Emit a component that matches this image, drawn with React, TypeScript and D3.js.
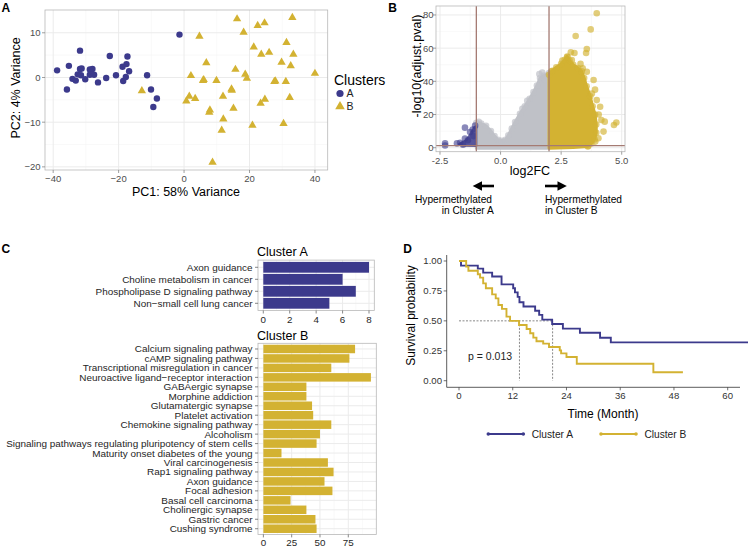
import React from 'react';
import * as d3 from 'd3';

// ---------------- DATA ----------------
// Panel A: PCA
const pcaClusterA: [number, number][] = [
  [-38.8, 1.6], [-35.2, 2.6], [-35.8, -2.7], [-31.8, 6.0], [-34.1, -0.3], [-33.1, -0.7],
  [-32.5, 0.7], [-31.8, 1.9], [-31.3, 2.0], [-31.5, 0.5], [-30.2, -0.4], [-28.8, 1.8],
  [-28.0, 1.9], [-28.8, 0.6], [-27.5, 0.6], [-26.3, -1.1], [-23.8, -0.1], [-22.7, 4.8],
  [-20.8, 0.5], [-18.8, 2.4], [-18.6, -0.8], [-17.6, 3.0], [-17.8, 0.1], [-17.3, 4.7],
  [-16.8, 1.4], [-11.3, 0.5], [-10.1, -2.7], [-8.3, -4.7], [-9.4, -6.6], [-1.4, 9.6],
];
const pcaClusterB: [number, number][] = [
  [-12.9, -3.0], [4.7, 9.2], [16.2, 13.1], [18.2, 10.1], [22.5, 11.6], [24.6, 12.2],
  [33.1, 13.4], [21.3, 6.8], [23.6, 5.2], [26.0, 5.6], [31.3, 7.8], [29.8, 3.4],
  [32.6, 2.6], [33.4, 5.2], [40.0, 0.9], [2.1, 0.4], [6.8, 3.3], [5.8, -0.7], [6.0, -0.5],
  [9.9, -0.7], [15.7, 1.8], [18.7, 0.7], [19.2, -0.2], [27.6, -0.9], [27.9, -0.8],
  [31.1, -0.9], [14.5, -2.6], [14.6, -2.9], [11.9, -4.2], [1.6, -4.2], [3.4, -4.7],
  [0.7, -5.3], [24.7, -4.9], [32.3, -4.5], [23.4, -5.8], [15.1, -6.9], [7.9, -7.3],
  [7.7, -7.8], [12.0, -9.3], [20.9, -10.7], [30.4, -10.3], [11.5, -11.8], [8.7, -19.0],
];
const pcaXTicks = [-40, -20, 0, 20, 40];
const pcaYTicks = [-20, -10, 0, 10];

// Panel B: volcano (dense clouds given as outlines, plus sparse points)
const volcanoGreyOutline: [number, number][] = [
  [-1.0, -0.3], [-1.0, 15], [-0.8, 14.6], [-0.6, 13.2], [-0.4, 10], [-0.25, 7], [-0.1, 4.8],
  [0.05, 4.2], [0.2, 4.8], [0.32, 7.5], [0.46, 11.5], [0.6, 15.5], [0.8, 20.5], [1.0, 25],
  [1.2, 29.5], [1.36, 33.5], [1.5, 37.5], [1.63, 42], [1.8, 43.5], [2.0, 45], [2.0, -0.3],
];
const volcanoGreyPoints: [number, number][] = [
  [1.6, 44.4], [1.84, 40.8], [1.72, 45.3], [-0.9, 15.6], [0.9, 23.5], [1.1, 28.2], [-0.05, 2.5],
];
const volcanoGoldOutline: [number, number][] = [
  [2.0, -0.3], [2.0, 44], [2.1, 46], [2.3, 48.5], [2.5, 50.5], [2.65, 53], [2.75, 55], [2.85, 52.5],
  [3.0, 50], [3.2, 48], [3.35, 46], [3.45, 42], [3.55, 37], [3.7, 31], [3.8, 25], [3.9, 20],
  [3.95, 14], [3.95, 9], [3.88, 5], [3.75, 2.5], [3.6, 0.8], [3.0, 0.2],
];
const volcanoGoldPoints: [number, number][] = [
  [3.97, 81], [3.72, 71.3], [3.1, 67.3], [3.56, 59.5], [3.05, 57.1], [3.53, 57.1], [2.76, 54.7],
  [2.94, 52.8], [2.14, 46.4], [3.39, 47.8], [3.56, 45.8], [3.84, 40.8], [3.77, 32.7], [3.97, 28.7],
  [4.11, 24.7], [4.16, 16.7], [4.3, 15.7], [4.78, 15.2], [4.68, 13.7], [4.25, 9.7], [4.04, 5.7],
  [3.91, 3.7], [4.05, 20], [3.9, 35], [3.3, 50.5], [2.9, 57.5], [2.55, 52.5], [3.62, 1.0],
];
const volcanoBlueOutline: [number, number][] = [
  [-1.0, 1.0], [-1.0, 13], [-1.08, 12.5], [-1.2, 9.5], [-1.32, 6.5], [-1.45, 4.2], [-1.6, 3.2],
  [-1.72, 2.2], [-1.6, 1.2],
];
const volcanoBluePoints: [number, number][] = [
  [-2.29, 2.6], [-2.29, 1.3], [-1.67, 3.0], [-1.8, 2.6], [-1.47, 12.1], [-1.47, 5.5],
  [-1.26, 9.5], [-1.15, 11], [-1.05, 13.3], [-1.35, 4.5], [-1.55, 1.8], [-1.12, 7],
];
const volcanoFcCutoffs = [-1, 2];
const volcanoPCutoff = 1.3;
const volcanoXTicks = [-2.5, 0, 2.5, 5];
const volcanoYTicks = [0, 20, 40, 60, 80];

// Panel C: pathway bars
const clusterACategories = [
  'Axon guidance',
  'Choline metabolism in cancer',
  'Phospholipase D signaling pathway',
  'Non\u2212small cell lung cancer',
];
const clusterAValues = [8, 6, 7, 5];
const clusterATicks = [0, 2, 4, 6, 8];
const clusterBCategories = [
  'Calcium signaling pathway',
  'cAMP signaling pathway',
  'Transcriptional misregulation in cancer',
  'Neuroactive ligand\u2212receptor interaction',
  'GABAergic synapse',
  'Morphine addiction',
  'Glutamatergic synapse',
  'Platelet activation',
  'Chemokine signaling pathway',
  'Alcoholism',
  'Signaling pathways regulating pluripotency of stem cells',
  'Maturity onset diabetes of the young',
  'Viral carcinogenesis',
  'Rap1 signaling pathway',
  'Axon guidance',
  'Focal adhesion',
  'Basal cell carcinoma',
  'Cholinergic synapse',
  'Gastric cancer',
  'Cushing syndrome',
];
const clusterBValues = [81, 76, 60, 95, 38, 38, 43, 44, 60, 50, 47, 16, 57, 62, 54, 61, 24, 38, 46, 47];
const clusterBTicks = [0, 25, 50, 75];

// Panel D: Kaplan-Meier
const kmATime = [0, 0.45, 4.2, 5.4, 7.4, 9.5, 12.1, 12.5, 13.1, 13.5, 14.4, 17.0, 17.9, 18.6, 20.8, 23.2, 27.0, 31.5, 33.9, 65];
const kmASurv = [1.0, 0.961, 0.936, 0.903, 0.87, 0.805, 0.772, 0.738, 0.7, 0.655, 0.62, 0.585, 0.55, 0.51, 0.474, 0.435, 0.401, 0.359, 0.32, 0.32];
const kmBTime = [0, 1.6, 2.1, 4.2, 4.7, 5.4, 6.0, 7.4, 8.2, 8.8, 9.6, 10.6, 11.4, 13.4, 15.1, 15.9, 16.6, 17.3, 18.8, 20.1, 22.5, 22.8, 24.0, 26.3, 43.4, 50.0];
const kmBSurv = [1.0, 0.953, 0.919, 0.889, 0.861, 0.813, 0.772, 0.721, 0.688, 0.632, 0.6, 0.535, 0.5, 0.465, 0.432, 0.396, 0.36, 0.33, 0.31, 0.281, 0.253, 0.228, 0.198, 0.142, 0.07, 0.07];
const kmMedians = [20.9, 13.5];
const kmXTicks = [0, 12, 24, 36, 48, 60];
const kmYTicks = [0, 0.25, 0.5, 0.75, 1];
const kmPValue = 'p = 0.013';
const clusterNames = ['Cluster A', 'Cluster B'];

// ---------------- STYLE ----------------
const BLUE = '#3c3a8c';
const GOLD = '#d3b232';
const GREY_PT = '#bfc1c7';
const FONT = 'Liberation Sans, Arial, Helvetica, sans-serif';
const GRID_MAJOR = '#ebebeb';
const GRID_MINOR = '#f5f5f5';
const BORDER = '#b8b8b8';
const TICK_TXT = '#4d4d4d';

function PanelA() {
  const x = d3.scaleLinear().domain([-42.5, 43.9]).range([45, 327.7]);
  const y = d3.scaleLinear().domain([-20.7, 15.1]).range([170, 10]);
  const [x0, x1] = x.range();
  const [y0, y1] = y.range();
  const minorX = [-30, -10, 10, 30];
  const minorY = [-15, -5, 5];
  const tri = d3.symbol().type(d3.symbolTriangle).size(30)();
  return (
    <g>
      <text x={1.5} y={11.7} fontSize={12} fontWeight="bold" fontFamily={FONT}>A</text>
      <rect x={x0} y={y1} width={x1 - x0} height={y0 - y1} fill="#fff" />
      {minorX.map((v) => <line key={'mx' + v} x1={x(v)} x2={x(v)} y1={y1} y2={y0} stroke={GRID_MINOR} strokeWidth={0.6} />)}
      {minorY.map((v) => <line key={'my' + v} x1={x0} x2={x1} y1={y(v)} y2={y(v)} stroke={GRID_MINOR} strokeWidth={0.6} />)}
      {pcaXTicks.map((v) => <line key={'gx' + v} x1={x(v)} x2={x(v)} y1={y1} y2={y0} stroke={GRID_MAJOR} strokeWidth={1} />)}
      {pcaYTicks.map((v) => <line key={'gy' + v} x1={x0} x2={x1} y1={y(v)} y2={y(v)} stroke={GRID_MAJOR} strokeWidth={1} />)}
      {pcaClusterA.map((p, i) => <circle key={'a' + i} cx={x(p[0])} cy={y(p[1])} r={3.2} fill={BLUE} />)}
      {pcaClusterB.map((p, i) => (
        <path key={'b' + i} d={tri as string} transform={`translate(${x(p[0])},${y(p[1])})`} fill={GOLD} />
      ))}
      <rect x={x0} y={y1} width={x1 - x0} height={y0 - y1} fill="none" stroke={BORDER} strokeWidth={0.8} />
      {pcaXTicks.map((v) => (
        <g key={'tx' + v}>
          <line x1={x(v)} x2={x(v)} y1={y0} y2={y0 + 3} stroke="#777" strokeWidth={0.7} />
          <text x={x(v)} y={181.5} fontSize={9.5} fill={TICK_TXT} textAnchor="middle" fontFamily={FONT}>
            {v < 0 ? '\u2212' + Math.abs(v) : v}
          </text>
        </g>
      ))}
      {pcaYTicks.map((v) => (
        <g key={'ty' + v}>
          <line x1={x0 - 3} x2={x0} y1={y(v)} y2={y(v)} stroke="#777" strokeWidth={0.7} />
          <text x={40.5} y={y(v) + 3.4} fontSize={9.5} fill={TICK_TXT} textAnchor="end" fontFamily={FONT}>
            {v < 0 ? '\u2212' + Math.abs(v) : v}
          </text>
        </g>
      ))}
      <text x={186} y={196} fontSize={12.5} textAnchor="middle" fontFamily={FONT}>PC1: 58% Variance</text>
      <text x={20} y={88} fontSize={12.5} textAnchor="middle" fontFamily={FONT} transform="rotate(-90,20,88)">
        PC2: 4% Variance
      </text>
      <text x={334} y={85} fontSize={14} fontFamily={FONT}>Clusters</text>
      <circle cx={340} cy={93.5} r={3.6} fill={BLUE} />
      <text x={346.5} y={97.2} fontSize={10.5} fill="#222" fontFamily={FONT}>A</text>
      <path d={d3.symbol().type(d3.symbolTriangle).size(40)() as string} transform="translate(340,106.5)" fill={GOLD} />
      <text x={346.5} y={110.2} fontSize={10.5} fill="#222" fontFamily={FONT}>B</text>
    </g>
  );
}

function PanelB() {
  const x = d3.scaleLinear().domain([-2.665, 5.136]).range([436, 625]);
  const y = d3.scaleLinear().domain([-2.4, 85.4]).range([151.7, 6]);
  const [x0, x1] = x.range();
  const [y0, y1] = y.range();
  const area = d3.line<[number, number]>().x((d) => x(d[0])).y((d) => y(d[1])).curve(d3.curveLinearClosed);
  const minorX = [-1.25, 1.25, 3.75];
  const minorY = [10, 30, 50, 70];
  const dot = (pts: [number, number][], col: string, op: number, key: string) =>
    pts.map((p, i) => <circle key={key + i} cx={x(p[0])} cy={y(p[1])} r={3.3} fill={col} fillOpacity={op} />);
  const lineCol = '#a57b73';
  return (
    <g>
      <text x={388.3} y={11.7} fontSize={12} fontWeight="bold" fontFamily={FONT}>B</text>
      <rect x={x0} y={y1} width={x1 - x0} height={y0 - y1} fill="#fff" />
      {minorX.map((v) => <line key={'mx' + v} x1={x(v)} x2={x(v)} y1={y1} y2={y0} stroke={GRID_MINOR} strokeWidth={0.6} />)}
      {minorY.map((v) => <line key={'my' + v} x1={x0} x2={x1} y1={y(v)} y2={y(v)} stroke={GRID_MINOR} strokeWidth={0.6} />)}
      {volcanoXTicks.map((v) => <line key={'gx' + v} x1={x(v)} x2={x(v)} y1={y1} y2={y0} stroke={GRID_MAJOR} />)}
      {volcanoYTicks.map((v) => <line key={'gy' + v} x1={x0} x2={x1} y1={y(v)} y2={y(v)} stroke={GRID_MAJOR} />)}
      <path d={area(volcanoGreyOutline) as string} fill={GREY_PT} stroke={GREY_PT} strokeWidth={3} strokeLinejoin="round" />
      {dot(volcanoGreyOutline.slice(1, -1), GREY_PT, 0.7, 'go')}
      {dot(volcanoGreyPoints, GREY_PT, 0.7, 'gp')}
      <path d={area(volcanoGoldOutline) as string} fill={GOLD} stroke={GOLD} strokeWidth={3} strokeLinejoin="round" />
      {dot(volcanoGoldOutline.slice(1, -1), GOLD, 0.65, 'yo')}
      {dot(volcanoGoldPoints, GOLD, 0.65, 'yp')}
      <path d={area(volcanoBlueOutline) as string} fill={BLUE} stroke={BLUE} strokeWidth={2} strokeLinejoin="round" opacity={0.85} />
      {dot(volcanoBluePoints, BLUE, 0.6, 'bp')}
      {volcanoFcCutoffs.map((v) => <line key={'fc' + v} x1={x(v)} x2={x(v)} y1={y1} y2={y0} stroke={lineCol} strokeWidth={1.3} />)}
      <line x1={x0} x2={x1} y1={y(volcanoPCutoff)} y2={y(volcanoPCutoff)} stroke={lineCol} strokeWidth={1.3} />
      <rect x={x0} y={y1} width={x1 - x0} height={y0 - y1} fill="none" stroke={BORDER} strokeWidth={0.8} />
      {volcanoXTicks.map((v) => (
        <g key={'tx' + v}>
          <line x1={x(v)} x2={x(v)} y1={y0} y2={y0 + 3} stroke="#777" strokeWidth={0.7} />
          <text x={x(v)} y={163.5} fontSize={9.5} fill={TICK_TXT} textAnchor="middle" fontFamily={FONT}>
            {v < 0 ? '-' + Math.abs(v).toFixed(1) : v.toFixed(1)}
          </text>
        </g>
      ))}
      {volcanoYTicks.map((v) => (
        <g key={'ty' + v}>
          <line x1={x0 - 3} x2={x0} y1={y(v)} y2={y(v)} stroke="#777" strokeWidth={0.7} />
          <text x={433.5} y={y(v) + 3.4} fontSize={9.5} fill={TICK_TXT} textAnchor="end" fontFamily={FONT}>{v}</text>
        </g>
      ))}
      <text x={530} y={175} fontSize={12.5} textAnchor="middle" fontFamily={FONT}>log2FC</text>
      <text x={420.5} y={66} fontSize={12.5} textAnchor="middle" fontFamily={FONT} transform="rotate(-90,420.5,66)">
        -log10(adjust.pval)
      </text>
      {/* arrows */}
      <line x1={481} x2={494} y1={186} y2={186} stroke="#000" strokeWidth={2.6} />
      <path d="M472.7,186 L482,181.3 L482,190.7 Z" fill="#000" />
      <line x1={545} x2={558} y1={186} y2={186} stroke="#000" strokeWidth={2.6} />
      <path d="M566.8,186 L557.5,181.3 L557.5,190.7 Z" fill="#000" />
      <text x={415} y={202.7} fontSize={10.2} fontFamily={FONT}>Hypermethylated</text>
      <text x={441.7} y={214} fontSize={10.2} fontFamily={FONT}>in Cluster A</text>
      <text x={545} y={202.7} fontSize={10.2} fontFamily={FONT}>Hypermethylated</text>
      <text x={545} y={214} fontSize={10.2} fontFamily={FONT}>in Cluster B</text>
    </g>
  );
}

function BarPanel(props: {
  cats: string[]; vals: number[]; ticks: number[]; xDomain: [number, number]; xRange: [number, number];
  yRange: [number, number]; color: string; title: string; titleY: number; tickY: number; minor: number[];
}) {
  const { cats, vals, ticks, xDomain, xRange, yRange, color, title, titleY, tickY, minor } = props;
  const x = d3.scaleLinear().domain(xDomain).range(xRange);
  const keys = cats.map((c, i) => i + '|' + c);
  const y = d3.scaleBand<string>().domain(keys).range(yRange).paddingInner(0.1).paddingOuter(0.15);
  const [x0, x1] = xRange;
  const [y1, y0] = yRange;
  const half = y.bandwidth() / 2;
  return (
    <g>
      <text x={257} y={titleY} fontSize={12.5} fontFamily={FONT}>{title}</text>
      <rect x={x0} y={y1} width={x1 - x0} height={y0 - y1} fill="#fff" />
      {minor.map((v) => <line key={'m' + v} x1={x(v)} x2={x(v)} y1={y1} y2={y0} stroke={GRID_MINOR} strokeWidth={0.6} />)}
      {ticks.map((v) => <line key={'g' + v} x1={x(v)} x2={x(v)} y1={y1} y2={y0} stroke={GRID_MAJOR} />)}
      {keys.map((k) => <line key={'h' + k} x1={x0} x2={x1} y1={(y(k) as number) + half} y2={(y(k) as number) + half} stroke={GRID_MAJOR} />)}
      {keys.map((k, i) => (
        <rect key={'r' + k} x={x(0)} y={y(k)} width={x(vals[i]) - x(0)} height={y.bandwidth()} fill={color} />
      ))}
      <rect x={x0} y={y1} width={x1 - x0} height={y0 - y1} fill="none" stroke={BORDER} strokeWidth={0.8} />
      {keys.map((k, i) => (
        <g key={'l' + k}>
          <line x1={x0 - 3} x2={x0} y1={(y(k) as number) + half} y2={(y(k) as number) + half} stroke="#555" strokeWidth={0.7} />
          <text x={252.5} y={(y(k) as number) + half + 3.5} fontSize={9.95} fill="#262626" textAnchor="end" fontFamily={FONT}>
            {cats[i]}
          </text>
        </g>
      ))}
      {ticks.map((v) => (
        <g key={'t' + v}>
          <line x1={x(v)} x2={x(v)} y1={y0} y2={y0 + 3} stroke="#555" strokeWidth={0.7} />
          <text x={x(v)} y={tickY} fontSize={9.8} fill="#262626" textAnchor="middle" fontFamily={FONT}>{v}</text>
        </g>
      ))}
    </g>
  );
}

function PanelC() {
  return (
    <g>
      <text x={1.5} y={253} fontSize={12} fontWeight="bold" fontFamily={FONT}>C</text>
      <BarPanel cats={clusterACategories} vals={clusterAValues} ticks={clusterATicks} xDomain={[-0.4, 8.4]}
        xRange={[258, 374.3]} yRange={[260.1, 310.5]} color={BLUE} title={clusterNames[0]} titleY={256.3}
        tickY={323} minor={[1, 3, 5, 7]} />
      <BarPanel cats={clusterBCategories} vals={clusterBValues} ticks={clusterBTicks} xDomain={[-4.75, 99.75]}
        xRange={[258, 376.3]} yRange={[343.3, 534.4]} color={GOLD} title={clusterNames[1]} titleY={339.8}
        tickY={545.5} minor={[12.5, 37.5, 62.5, 87.5]} />
    </g>
  );
}

function PanelD() {
  const x = d3.scaleLinear().domain([0, 60]).range([459, 727.7]);
  const y = d3.scaleLinear().domain([0, 1]).range([380.7, 261]);
  const axX = 446.7;
  const axY = 387.3;
  const mk = (t: number[], s: number[]) =>
    d3.line<number>().x((_, i) => x(t[i])).y((_, i) => y(s[i])).curve(d3.curveStepAfter)(t) as string;
  return (
    <g>
      <text x={403.3} y={253} fontSize={12} fontWeight="bold" fontFamily={FONT}>D</text>
      <line x1={x(0)} x2={x(kmMedians[0])} y1={y(0.5)} y2={y(0.5)} stroke="#555" strokeWidth={0.7} strokeDasharray="2,1.5" />
      {kmMedians.map((m) => (
        <line key={'md' + m} x1={x(m)} x2={x(m)} y1={y(0.5)} y2={y(0)} stroke="#555" strokeWidth={0.7} strokeDasharray="2,1.5" />
      ))}
      <path d={mk(kmATime, kmASurv)} fill="none" stroke={BLUE} strokeWidth={1.9} />
      <path d={mk(kmBTime, kmBSurv)} fill="none" stroke={GOLD} strokeWidth={1.9} />
      <line x1={axX} x2={axX} y1={255} y2={axY} stroke="#333" strokeWidth={0.8} />
      <line x1={axX} x2={740} y1={axY} y2={axY} stroke="#333" strokeWidth={0.8} />
      {kmYTicks.map((v) => (
        <g key={'y' + v}>
          <line x1={axX - 3} x2={axX} y1={y(v)} y2={y(v)} stroke="#333" strokeWidth={0.7} />
          <text x={442} y={y(v) + 3.4} fontSize={9.6} fill="#333" textAnchor="end" fontFamily={FONT}>{v.toFixed(2)}</text>
        </g>
      ))}
      {kmXTicks.map((v) => (
        <g key={'x' + v}>
          <line x1={x(v)} x2={x(v)} y1={axY} y2={axY + 3} stroke="#333" strokeWidth={0.7} />
          <text x={x(v)} y={398.8} fontSize={9.6} fill="#333" textAnchor="middle" fontFamily={FONT}>{v}</text>
        </g>
      ))}
      <text x={468} y={359.5} fontSize={10.5} fill="#222" fontFamily={FONT}>{kmPValue}</text>
      <text x={603} y={417.5} fontSize={12} textAnchor="middle" fontFamily={FONT}>Time (Month)</text>
      <text x={414.5} y={315.5} fontSize={12} textAnchor="middle" fontFamily={FONT} transform="rotate(-90,414.5,315.5)">
        Survival probability
      </text>
      {[BLUE, GOLD].map((c, i) => {
        const lx = i === 0 ? 488.3 : 601;
        return (
          <g key={'lg' + i}>
            <line x1={lx} x2={lx + 35} y1={434} y2={434} stroke={c} strokeWidth={2.2} />
            <circle cx={lx} cy={434} r={1.8} fill={c} />
            <circle cx={lx + 35} cy={434} r={1.8} fill={c} />
            <text x={lx + 43.4} y={437.6} fontSize={10.2} fill="#222" fontFamily={FONT}>{clusterNames[i]}</text>
          </g>
        );
      })}
    </g>
  );
}

export default function App() {
  return (
    <svg width={748} height={547} viewBox="0 0 748 547"
      style={{ position: 'absolute', left: 0, top: 0, background: '#fff' }} fontFamily={FONT}>
      <rect width={748} height={547} fill="#fff" />
      <PanelA />
      <PanelB />
      <PanelC />
      <PanelD />
    </svg>
  );
}
